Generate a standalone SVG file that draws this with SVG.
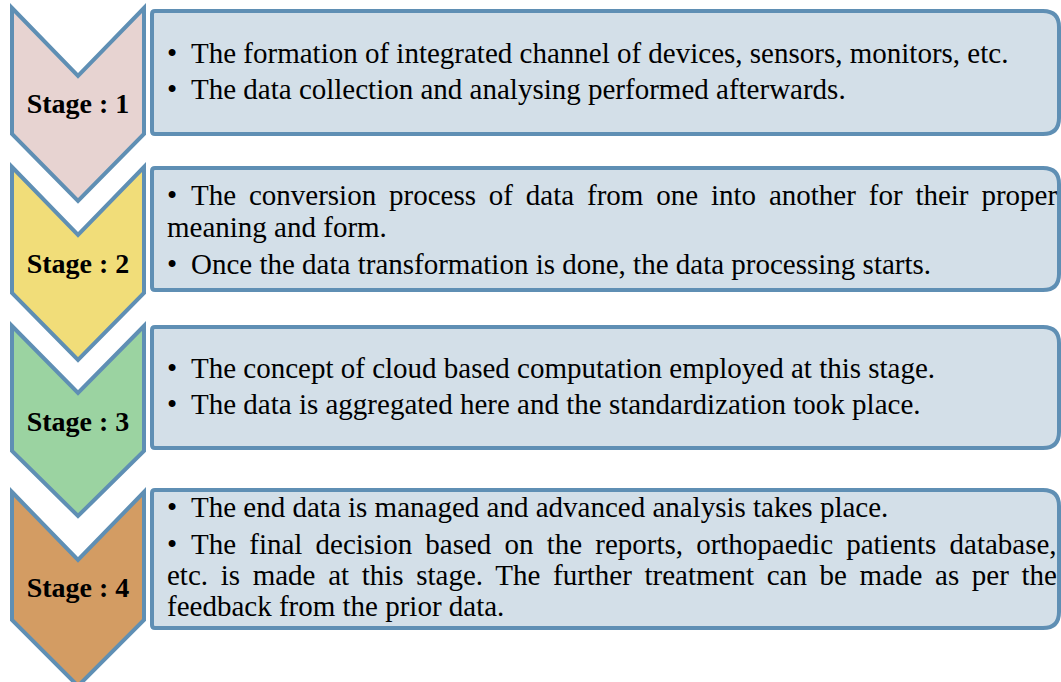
<svg xmlns="http://www.w3.org/2000/svg" width="1061" height="682" viewBox="0 0 1061 682">
<style>
.chev{stroke:#5f8fb4;stroke-width:4;stroke-linejoin:miter}
.box{fill:#d3dfe8;stroke:#5f8fb4;stroke-width:4}
</style>
<rect width="1061" height="682" fill="#ffffff"/>
<g id="stage1">
<polygon class="chev" fill="#e7d3d1" points="12,8 78,76 144,8 144,134 78,201 12,134"/>
<text x="78" y="113" font-family="'Liberation Serif', serif" font-weight="bold" font-size="28" text-anchor="middle">Stage : 1</text>
</g>
<g id="stage2">
<polygon class="chev" fill="#f1dd79" points="12,167 78,235 144,167 144,293 78,360 12,293"/>
<text x="78" y="273" font-family="'Liberation Serif', serif" font-weight="bold" font-size="28" text-anchor="middle">Stage : 2</text>
</g>
<g id="stage3">
<polygon class="chev" fill="#9bd3a1" points="12,326 78,393 144,326 144,451 78,516 12,451"/>
<text x="78" y="431" font-family="'Liberation Serif', serif" font-weight="bold" font-size="28" text-anchor="middle">Stage : 3</text>
</g>
<g id="stage4">
<polygon class="chev" fill="#d39c63" points="12,492 78,560 144,492 144,620 78,686 12,620"/>
<text x="78" y="597" font-family="'Liberation Serif', serif" font-weight="bold" font-size="28" text-anchor="middle">Stage : 4</text>
</g>
<g font-family="'Times New Roman', 'Liberation Serif', serif" font-size="29px">
<g id="box1">
<path class="box" d="M155,11 H1043 Q1059,11 1059,27 V118 Q1059,134 1043,134 H155 Q152,134 152,131 V14 Q152,11 155,11 Z"/>
<text x="167" y="63">•</text>
<text x="191" y="63">The formation of integrated channel of devices, sensors, monitors, etc.</text>
<text x="167" y="99">•</text>
<text x="191" y="99">The data collection and analysing performed afterwards.</text>
</g>
<g id="box2">
<path class="box" d="M155,168 H1043 Q1059,168 1059,184 V274 Q1059,290 1043,290 H155 Q152,290 152,287 V171 Q152,168 155,168 Z"/>
<text x="167" y="205">•</text>
<text x="191" y="205" word-spacing="5.6">The conversion process of data from one into another for their proper</text>
<text x="167" y="237">meaning and form.</text>
<text x="167" y="274">•</text>
<text x="191" y="274">Once the data transformation is done, the data processing starts.</text>
</g>
<g id="box3">
<path class="box" d="M155,327 H1043 Q1059,327 1059,343 V432 Q1059,448 1043,448 H155 Q152,448 152,445 V330 Q152,327 155,327 Z"/>
<text x="167" y="378">•</text>
<text x="191" y="378">The concept of cloud based computation employed at this stage.</text>
<text x="167" y="414">•</text>
<text x="191" y="414">The data is aggregated here and the standardization took place.</text>
</g>
<g id="box4">
<path class="box" d="M155,490 H1043 Q1059,490 1059,506 V612 Q1059,628 1043,628 H155 Q152,628 152,625 V493 Q152,490 155,490 Z"/>
<text x="167" y="517">•</text>
<text x="191" y="517">The end data is managed and advanced analysis takes place.</text>
<text x="167" y="554">•</text>
<text x="191" y="554" word-spacing="5.9">The final decision based on the reports, orthopaedic patients database,</text>
<text x="167" y="585" word-spacing="5.4">etc. is made at this stage. The further treatment can be made as per the</text>
<text x="167" y="616">feedback from the prior data.</text>
</g>
</g>
<g id="connectors"></g>
</svg>
